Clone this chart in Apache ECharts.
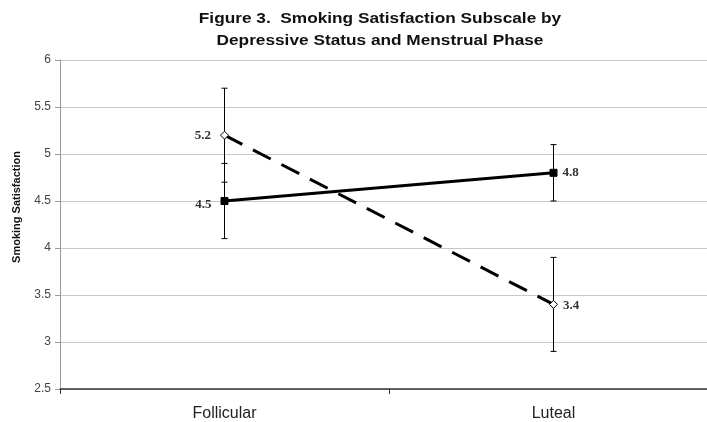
<!DOCTYPE html>
<html>
<head>
<meta charset="utf-8">
<script src="https://cdn.jsdelivr.net/npm/echarts@6/dist/echarts.min.js"></script>
<style>html,body{margin:0;padding:0;background:#fff;}#wrap{width:707px;height:422px;overflow:hidden;position:relative;}#c{width:718px;height:422px;position:absolute;left:0;top:0;}</style>
</head>
<body>
<div id="wrap"><div id="c"></div></div>
<script>
const categories = ['Follicular', 'Luteal'];
const solidValues = [4.5, 4.8];
const solidErr = [0.4, 0.3];
const dashedValues = [5.2, 3.4];
const dashedErr = [0.5, 0.5];
const yTicks = [2.5, 3, 3.5, 4, 4.5, 5, 5.5, 6];
const titleLines = ['Figure 3.  Smoking Satisfaction Subscale by', 'Depressive Status and Menstrual Phase'];
const yName = 'Smoking Satisfaction';

const chart = echarts.init(document.getElementById('c'));

function errData(vals, errs) {
  return vals.map((v, i) => [i, v - errs[i], v + errs[i]]);
}
function renderErr(params, api) {
  const x = api.value(0);
  const lo = api.coord([x, api.value(1)]);
  const hi = api.coord([x, api.value(2)]);
  const w = 3;
  const style = { stroke: '#000', lineWidth: 1 };
  return {
    type: 'group',
    children: [
      { type: 'line', shape: { x1: lo[0], y1: lo[1], x2: hi[0], y2: hi[1] }, style },
      { type: 'line', shape: { x1: lo[0] - w, y1: lo[1], x2: lo[0] + w, y2: lo[1] }, style },
      { type: 'line', shape: { x1: hi[0] - w, y1: hi[1], x2: hi[0] + w, y2: hi[1] }, style }
    ]
  };
}
function labeled(vals, offsets) {
  return vals.map((v, i) => ({
    value: v,
    label: { position: i === 0 ? 'left' : 'right', distance: i === 0 ? 9 : 5, offset: offsets[i] }
  }));
}
const labelStyle = {
  show: true,
  fontFamily: 'Liberation Serif',
  fontWeight: 'bold',
  fontSize: 13,
  color: '#333'
};
const titleStyle = { fontFamily: 'Liberation Sans', fontWeight: 'bold', fontSize: 15, fill: '#111', textAlign: 'center', textVerticalAlign: 'middle' };

chart.setOption({
  animation: false,
  backgroundColor: '#fff',
  graphic: [
    { type: 'text', x: 380, y: 19, scaleX: 1.15, style: Object.assign({ text: titleLines[0] }, titleStyle) },
    { type: 'text', x: 380, y: 41, scaleX: 1.15, style: Object.assign({ text: titleLines[1] }, titleStyle) },
    { type: 'text', x: 17, y: 207, rotation: Math.PI / 2,
      style: { text: yName, fontFamily: 'Liberation Sans', fontWeight: 'bold', fontSize: 11, fill: '#111', textAlign: 'center', textVerticalAlign: 'middle' } }
  ],
  grid: { left: 60, top: 60, right: 0, bottom: 32, containLabel: false },
  xAxis: {
    type: 'category',
    data: categories,
    boundaryGap: true,
    axisLine: { lineStyle: { color: '#333', width: 1.5 } },
    axisTick: { show: true, length: 5, lineStyle: { color: '#333' } },
    axisLabel: { fontFamily: 'Liberation Sans', fontSize: 16, color: '#222', margin: 17 },
    splitLine: { show: false }
  },
  yAxis: {
    type: 'value',
    min: 2.5, max: 6, interval: 0.5,
    axisLine: { show: true, lineStyle: { color: '#999' } },
    axisTick: { show: true, length: 5, lineStyle: { color: '#999' } },
    axisLabel: { fontFamily: 'Liberation Sans', fontSize: 12, color: '#444', margin: 9,
      formatter: v => yTicks.includes(v) ? String(v) : '' },
    splitLine: { lineStyle: { color: '#c8c8c8', width: 1 } }
  },
  series: [
    { type: 'custom', name: 'err-solid', renderItem: renderErr, data: errData(solidValues, solidErr), encode: { x: 0, y: [1, 2] }, z: 1 },
    { type: 'custom', name: 'err-dashed', renderItem: renderErr, data: errData(dashedValues, dashedErr), encode: { x: 0, y: [1, 2] }, z: 1 },
    {
      type: 'line', name: 'Solid', data: labeled(solidValues, [[0, 4], [0, 0]]),
      symbol: 'rect', symbolSize: 7,
      itemStyle: { color: '#000', borderColor: '#000' },
      lineStyle: { color: '#000', width: 3 },
      label: labelStyle, z: 3
    },
    {
      type: 'line', name: 'Dashed', data: labeled(dashedValues, [[0, 0], [0, 1]]),
      symbol: 'diamond', symbolSize: 8,
      itemStyle: { color: '#fff', borderColor: '#000', borderWidth: 1 },
      lineStyle: { color: '#000', width: 3, type: [20, 12] },
      label: labelStyle, z: 3
    }
  ]
});
</script>
</body>
</html>
